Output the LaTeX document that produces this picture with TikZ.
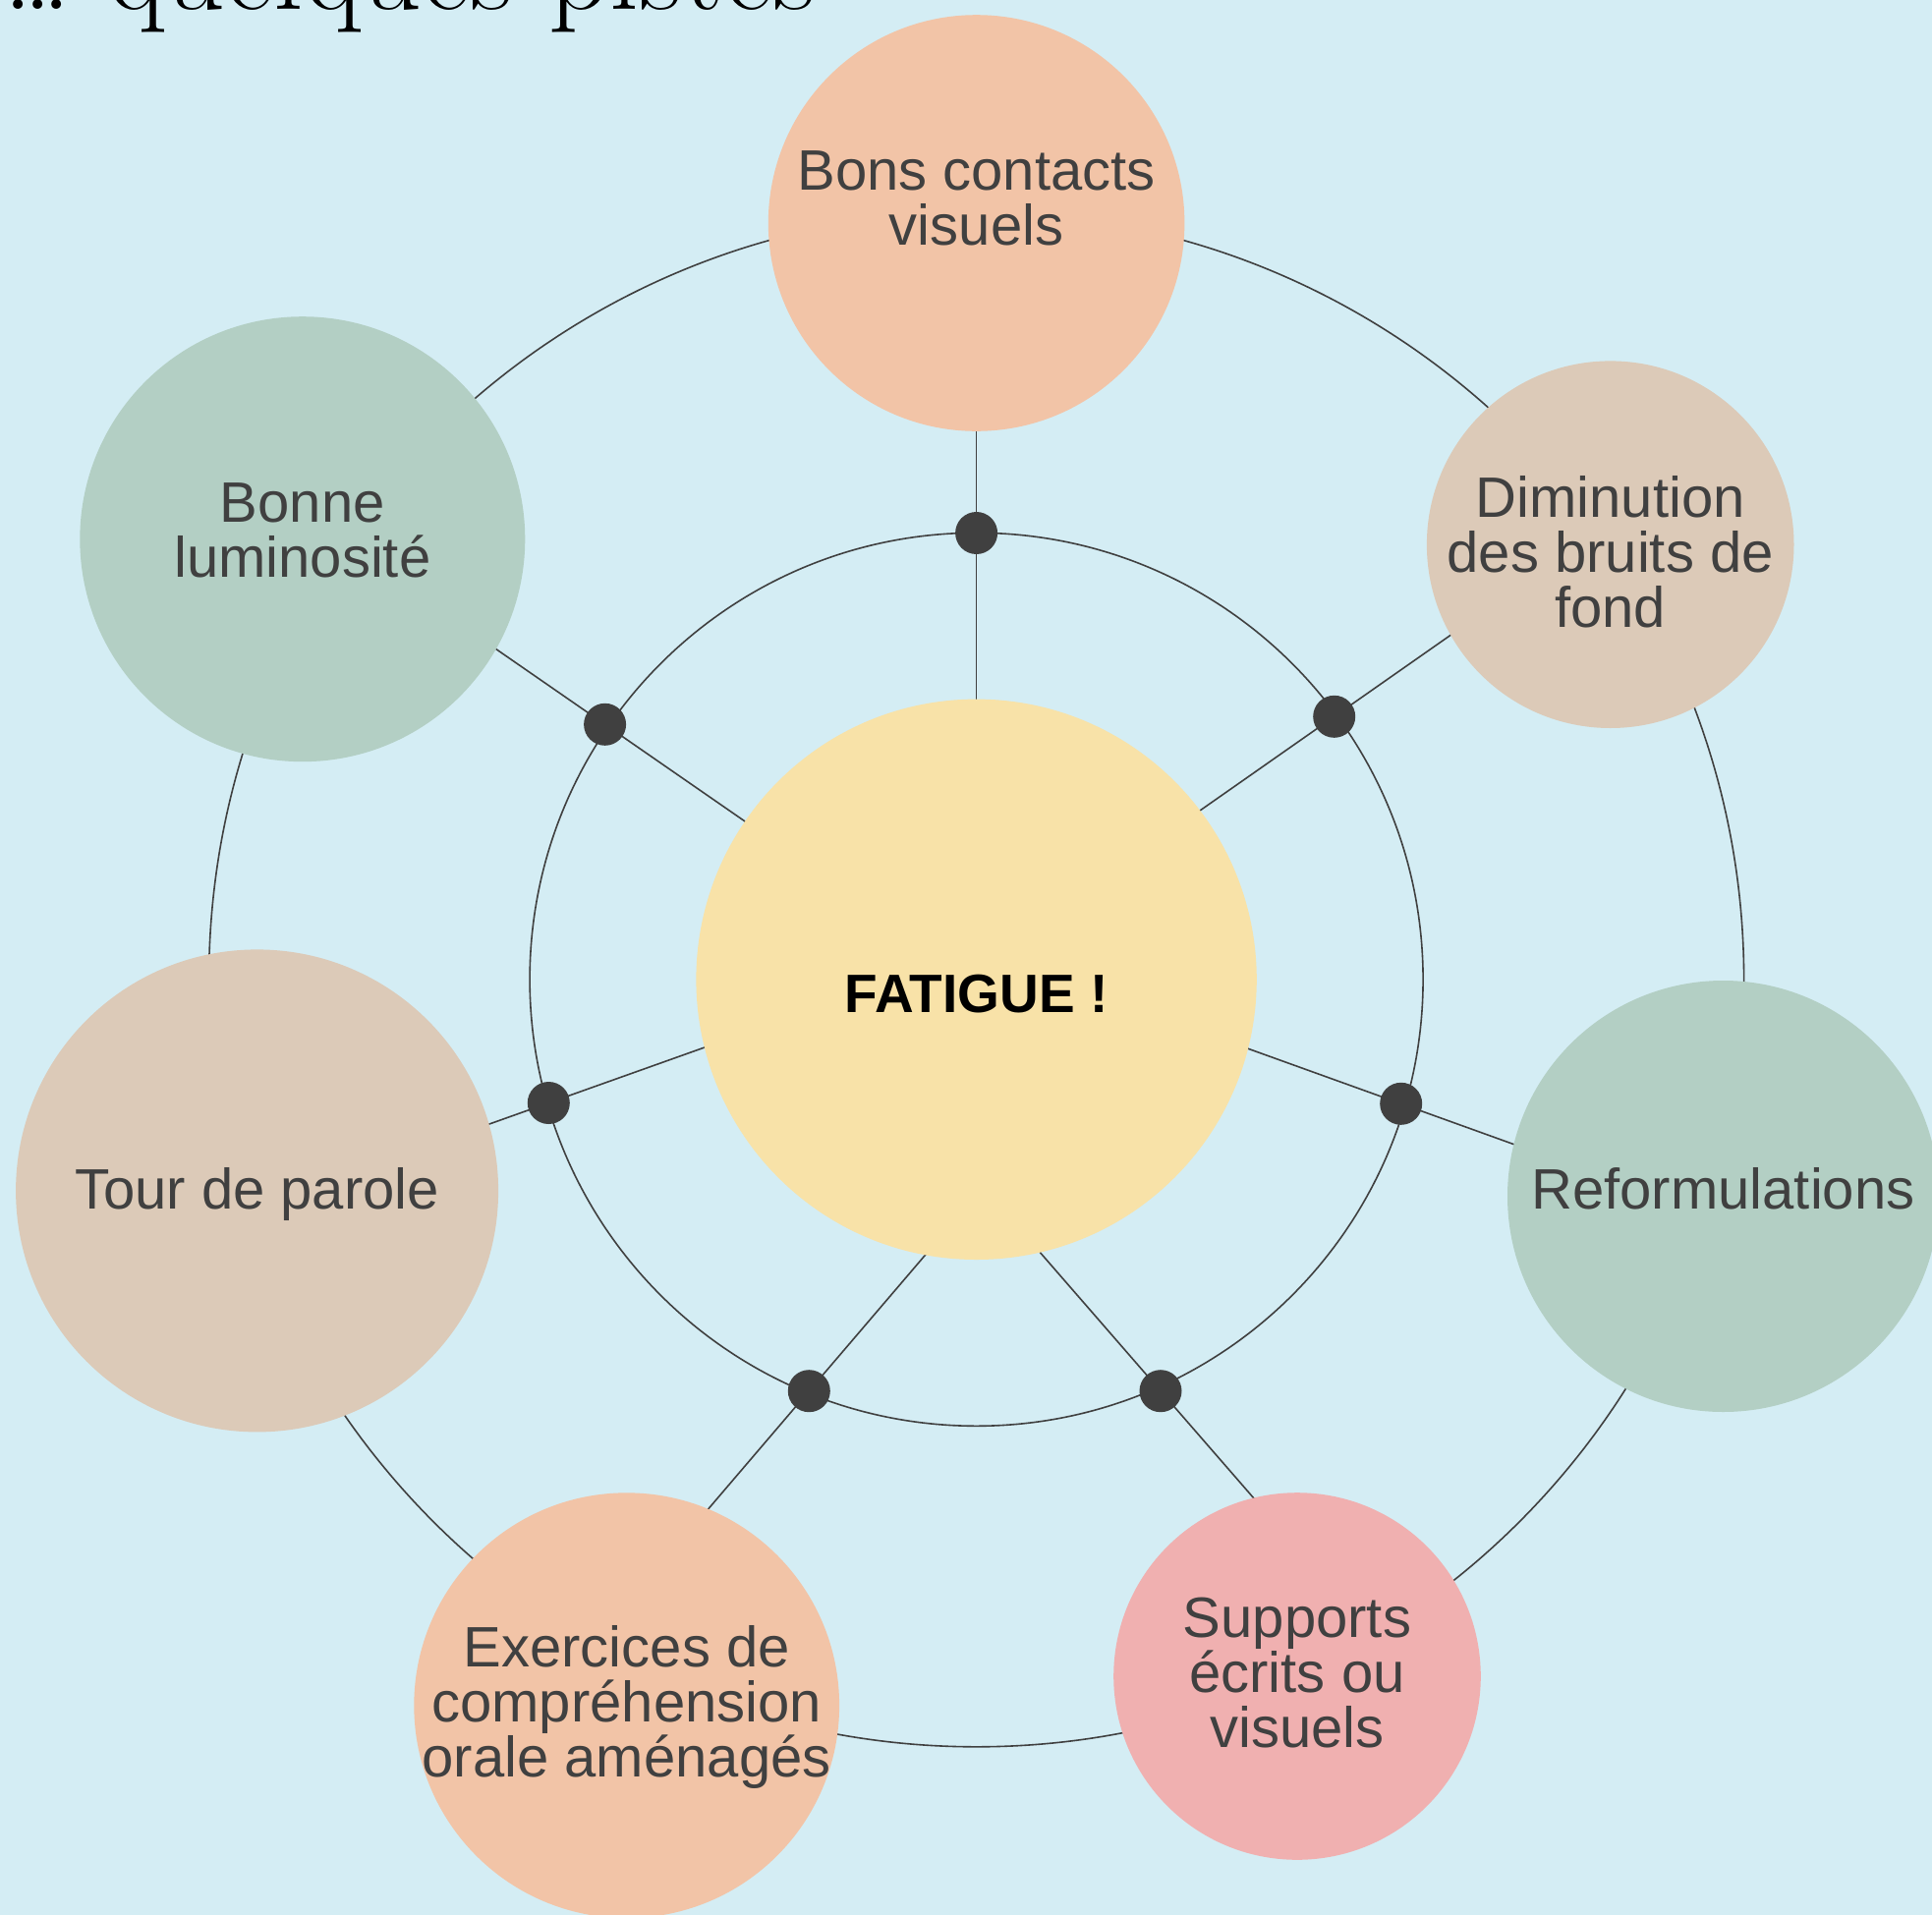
\documentclass[tikz,border=0pt]{standalone}
\usepackage{fontspec}
\newfontfamily\satfont{Liberation Sans}
\usetikzlibrary{calc}
\definecolor{bgcol}{HTML}{D4EDF4}
\definecolor{yelcol}{HTML}{F8E2A8}
\definecolor{peachcol}{HTML}{F2C4A7}
\definecolor{greencol}{HTML}{B3CFC4}
\definecolor{beigecol}{HTML}{DCCAB8}
\definecolor{pinkcol}{HTML}{F0B0B0}
\definecolor{lncol}{HTML}{404040}
\definecolor{txtcol}{HTML}{404040}
\begin{document}
\begin{tikzpicture}[x=0.5pt,y=-0.5pt,
  ln/.style={draw=lncol, line width=0.8pt},
  bubble/.style={circle, fill=#1, draw=none, inner sep=0pt},
  lbl/.style={align=center, text=txtcol, inner sep=0pt,
    font=\satfont\fontsize{29}{28}\selectfont},
  fatlbl/.style={text=black, inner sep=0pt, font=\satfont\bfseries\fontsize{27.5}{30}\selectfont},
  dotnode/.style={circle, fill=lncol, draw=none, inner sep=0pt, minimum size=21.5pt}]
\useasboundingbox (0,0) rectangle (1966,1949);
\clip (0,0) rectangle (1966,1949);
\fill[bgcol] (0,0) rectangle (1966,1949);

% title
\node[anchor=base east, inner sep=0pt, font=\fontsize{60.5}{64}\selectfont] (title) at (830,9)
  {.\kern-5.5pt.\kern-5.5pt.\ quelques pistes};

% centre and rings
\coordinate (C) at (993.6,996.8);
\draw[ln] (C) circle[radius=390.5pt];
\draw[ln] (C) circle[radius=227.25pt];

% dot positions on the inner ring
\coordinate (p1) at (993.6,542.5);
\coordinate (p2) at (1357.7,729.3);
\coordinate (p3) at (1425.7,1123.3);
\coordinate (p4) at (1181,1415.7);
\coordinate (p5) at (823.3,1415.7);
\coordinate (p6) at (558.3,1122.5);
\coordinate (p7) at (615.6,737.3);

% spoke ends (hidden under the filled circles)
\coordinate (i1) at ($(p1)+(270:125pt)$); \coordinate (o1) at ($(p1)+(90:100pt)$);
\coordinate (i2) at ($(p2)+(215:125pt)$); \coordinate (o2) at ($(p2)+(35:125pt)$);
\coordinate (i3) at ($(p3)+(160.2:125pt)$); \coordinate (o3) at ($(p3)+(-19.8:125pt)$);
\coordinate (i4) at ($(p4)+(131:125pt)$); \coordinate (o4) at ($(p4)+(-49:125pt)$);
\coordinate (i5) at ($(p5)+(49.5:125pt)$); \coordinate (o5) at ($(p5)+(-130.5:125pt)$);
\coordinate (i6) at ($(p6)+(19.6:125pt)$); \coordinate (o6) at ($(p6)+(199.6:125pt)$);
\coordinate (i7) at ($(p7)+(-34.7:125pt)$); \coordinate (o7) at ($(p7)+(145.3:125pt)$);

\foreach \k in {1,...,7} {
  \draw[ln] (i\k) -- (p\k) -- (o\k);
}

% central circle
\node[bubble=yelcol, minimum size=285.2pt,
  label={[fatlbl, yshift=-7.6pt]center:FATIGUE !}] (fat) at (C) {};

% satellites
\node[bubble=peachcol, minimum size=211.8pt,
  label={[lbl, yshift=12.6pt]center:{Bons contacts\\visuels}}] (s1) at (993.6,227) {};
\node[bubble=beigecol, minimum size=186.8pt,
  label={[lbl, yshift=-3.7pt]center:{Diminution\\des bruits de\\fond}}] (s2) at (1638.7,554.2) {};
\node[bubble=greencol, minimum size=219.5pt,
  label={[lbl, yshift=3.7pt]center:{Reformulations}}] (s3) at (1753.5,1217.5) {};
\node[bubble=pinkcol, minimum size=186.8pt,
  label={[lbl, yshift=1.5pt]center:{Supports\\écrits ou\\visuels}}] (s4) at (1320,1706) {};
\node[bubble=peachcol, minimum size=216.4pt,
  label={[lbl, yshift=-1pt]center:{Exercices de\\compréhension\\orale aménagés}}] (s5) at (637.7,1735.7) {};
\node[bubble=beigecol, minimum size=245.5pt,
  label={[lbl, yshift=-2pt]center:{Tour de parole}}] (s6) at (261.6,1211.9) {};
\node[bubble=greencol, minimum size=226.5pt,
  label={[lbl, yshift=4.4pt]center:{Bonne\\luminosité}}] (s7) at (307.8,548.7) {};

% dots
\foreach \k in {1,...,7} {
  \node[dotnode] (d\k) at (p\k) {};
}
\end{tikzpicture}
\end{document}
